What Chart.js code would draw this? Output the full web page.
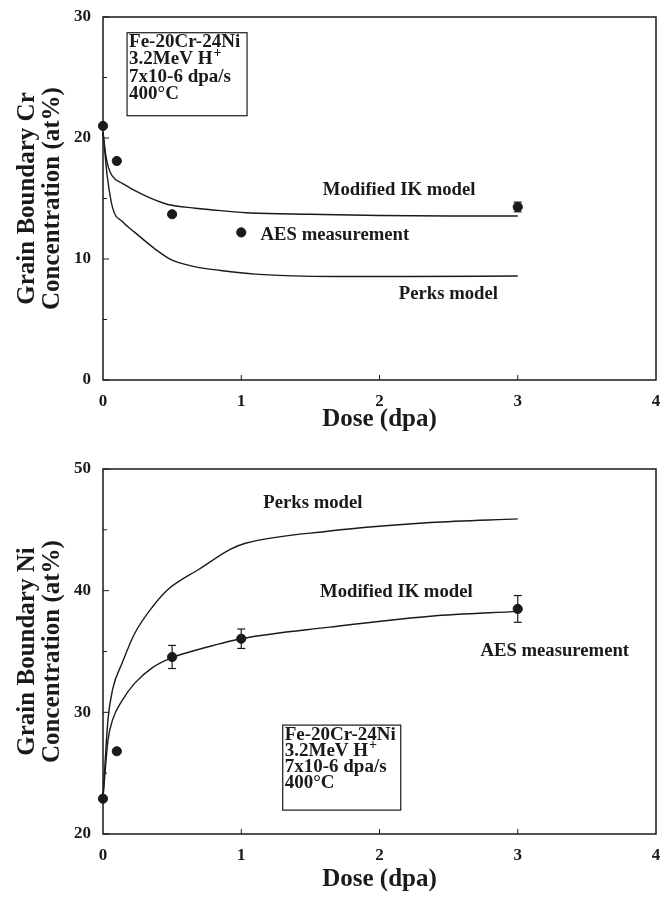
<!DOCTYPE html>
<html>
<head>
<meta charset="utf-8">
<script src="https://cdn.jsdelivr.net/npm/chart.js@4.4.1/dist/chart.umd.min.js"></script>
<style>
  html, body { margin: 0; padding: 0; background: #fff; }
  canvas { display: block; }
</style>
</head>
<body>
<canvas id="chart-cr" width="660" height="440"></canvas>
<canvas id="chart-ni" width="660" height="458"></canvas>
<script>
// Grain boundary segregation in Fe-20Cr-24Ni after 3.2 MeV proton irradiation.
// Two stacked panels: Cr depletion (top) and Ni enrichment (bottom), each with
// the two model curves and the AES measurements.

const INK = '#1a1a1a';
const SERIF = "'Liberation Serif', 'Times New Roman', serif";

const xTickLabels = [0, 1, 2, 3, 4];
const xInnerTicks = [1, 2, 3];

// ---- top panel: Cr ----
const crIkDose    = [0, 0.02, 0.036, 0.065, 0.14, 0.3, 0.47, 0.67, 0.85, 1.07, 1.5, 2, 2.5, 3];
const crIkConc    = [20.5, 18.6, 17.7, 16.9, 16.25, 15.25, 14.5, 14.2, 14.0, 13.8, 13.7, 13.6, 13.55, 13.55];
const crPerksDose = [0, 0.02, 0.03, 0.07, 0.14, 0.23, 0.38, 0.5, 0.67, 0.85, 1.1, 1.67, 2.2, 3];
const crPerksConc = [20.5, 18.0, 16.9, 14.2, 13.1, 12.2, 10.8, 9.9, 9.35, 9.05, 8.75, 8.55, 8.55, 8.6];
const crAesDose   = [0, 0.1, 0.5, 1, 3];
const crAesConc   = [21.0, 18.1, 13.7, 12.2, 14.3];
const crAesErr    = [0, 0, 0, 0, 0.4];
const crYMajor    = [0, 10, 20, 30];
const crYMinor    = [5, 15, 25];
const crNotes = [
  { text: 'Modified IK model', x: 1.59, y: 15.7 },
  { text: 'AES measurement',   x: 1.14, y: 12.0 },
  { text: 'Perks model',       x: 2.14, y: 7.1 },
];

// ---- bottom panel: Ni ----
const niPerksDose = [0, 0.036, 0.07, 0.14, 0.23, 0.36, 0.47, 0.7, 0.92, 1.03, 1.64, 2.37, 3];
const niPerksConc = [23.0, 29.4, 31.9, 34.1, 36.5, 38.7, 40.1, 41.8, 43.4, 43.9, 44.9, 45.6, 45.9];
const niIkDose    = [0, 0.036, 0.07, 0.14, 0.23, 0.36, 0.5, 0.67, 1, 1.64, 2.37, 3];
const niIkConc    = [23.0, 27.7, 29.4, 31.0, 32.4, 33.7, 34.5, 35.1, 36.05, 37.0, 37.9, 38.3];
const niAesDose   = [0, 0.1, 0.5, 1, 3];
const niAesConc   = [22.9, 26.8, 34.55, 36.05, 38.5];
const niAesErr    = [0, 0, 0.95, 0.8, 1.1];
const niYMajor    = [20, 30, 40, 50];
const niYMinor    = [25, 35, 45];
const niNotes = [
  { text: 'Perks model',       x: 1.16, y: 47.2 },
  { text: 'Modified IK model', x: 1.57, y: 39.9 },
  { text: 'AES measurement',   x: 2.73, y: 35.0 },
];

const conditions = ['Fe-20Cr-24Ni', '3.2MeV H^+', '7x10-6 dpa/s', '400\u00B0C'];

const pts = (xs, ys) => xs.map((x, i) => ({ x, y: ys[i] }));

function seg(ctx, x1, y1, x2, y2) {
  ctx.beginPath();
  ctx.moveTo(x1, y1);
  ctx.lineTo(x2, y2);
  ctx.stroke();
}

// frame, inward ticks, error bars, text labels and the conditions box
const panelDecor = {
  id: 'panelDecor',
  afterDatasetsDraw(chart, args, opts) {
    const { ctx } = chart;
    const xs = chart.scales.x, ys = chart.scales.y;
    const data = chart.data.datasets[opts.errIndex].data;
    ctx.save();
    ctx.strokeStyle = INK;
    ctx.lineWidth = 1.2;
    opts.err.forEach((e, i) => {
      if (!e) return;
      const x = xs.getPixelForValue(data[i].x);
      const y1 = ys.getPixelForValue(data[i].y - e);
      const y2 = ys.getPixelForValue(data[i].y + e);
      seg(ctx, x, y1, x, y2);
      seg(ctx, x - 4, y1, x + 4, y1);
      seg(ctx, x - 4, y2, x + 4, y2);
    });
    ctx.restore();
  },
  afterDraw(chart, args, opts) {
    const { ctx, chartArea: a } = chart;
    const xs = chart.scales.x, ys = chart.scales.y;
    ctx.save();
    ctx.strokeStyle = INK;
    ctx.fillStyle = INK;

    ctx.lineWidth = 1.5;
    ctx.strokeRect(a.left, a.top, a.right - a.left, a.bottom - a.top);

    ctx.lineWidth = 1;
    opts.yMajor.forEach((v) => { const y = ys.getPixelForValue(v); seg(ctx, a.left, y, a.left + 6, y); });
    opts.yMinor.forEach((v) => { const y = ys.getPixelForValue(v); seg(ctx, a.left, y, a.left + 4, y); });
    xInnerTicks.forEach((v) => { const x = xs.getPixelForValue(v); seg(ctx, x, a.bottom, x, a.bottom - 5); });

    ctx.font = `bold 18.7px ${SERIF}`;
    ctx.textAlign = 'left';
    ctx.textBaseline = 'middle';
    opts.notes.forEach((n) => ctx.fillText(n.text, xs.getPixelForValue(n.x), ys.getPixelForValue(n.y)));

    // conditions box
    const b = opts.box;
    const bx = xs.getPixelForValue(b.x), by = ys.getPixelForValue(b.y);
    ctx.lineWidth = 1.2;
    ctx.strokeRect(bx, by, b.w, b.h);
    conditions.forEach((line, i) => {
      const ty = by + b.first + i * b.step;
      const [main, sup] = line.split('^');
      ctx.font = `bold 19px ${SERIF}`;
      ctx.fillText(main, bx + 2, ty);
      if (sup) {
        const w = ctx.measureText(main).width;
        ctx.font = `bold 14px ${SERIF}`;
        ctx.fillText(sup, bx + 2 + w + 1, ty - 6);
      }
    });
    ctx.restore();
  },
};

function lineSet(label, data) {
  return {
    label, data,
    showLine: true,
    borderColor: INK,
    borderWidth: 1.4,
    pointRadius: 0,
    cubicInterpolationMode: 'monotone',
    clip: false,
  };
}

function buildPanel(id, p) {
  const ctx = document.getElementById(id);
  return new Chart(ctx, {
    type: 'scatter',
    data: {
      datasets: [
        ...p.lines.map(([label, d]) => lineSet(label, d)),
        {
          label: 'AES measurement',
          data: p.aes,
          showLine: false,
          pointRadius: 4.6,
          pointBackgroundColor: INK,
          pointBorderColor: INK,
          clip: false,
        },
      ],
    },
    options: {
      responsive: false,
      animation: false,
      events: [],
      layout: { autoPadding: false, padding: { top: p.padTop, right: 4, left: 0, bottom: 0 } },
      plugins: {
        legend: { display: false },
        tooltip: { enabled: false },
        panelDecor: {
          errIndex: p.lines.length,
          err: p.err,
          yMajor: p.yMajor,
          yMinor: p.yMinor,
          notes: p.notes,
          box: p.box,
        },
      },
      scales: {
        x: {
          type: 'linear',
          min: 0, max: 4,
          afterBuildTicks: (s) => { s.ticks = xTickLabels.map((v) => ({ value: v })); },
          afterFit: (s) => {
            s.height = p.xHeight;
            s.paddingLeft = 0;
            s.paddingRight = 0;
          },
          grid: { display: false },
          border: { display: false },
          ticks: { color: INK, padding: 3, maxRotation: 0, font: { family: SERIF, size: 17, weight: 'bold' } },
          title: {
            display: true,
            text: 'Dose (dpa)',
            color: INK,
            font: { family: SERIF, size: 25, weight: 'bold', lineHeight: 1 },
            padding: { top: 0, bottom: p.xTitlePad },
          },
        },
        y: {
          type: 'linear',
          min: p.yMajor[0], max: p.yMajor[p.yMajor.length - 1],
          afterBuildTicks: (s) => { s.ticks = p.yMajor.map((v) => ({ value: v })); },
          afterFit: (s) => {
            s.width = 103;
            s.paddingTop = 0;
            s.paddingBottom = 0;
          },
          grid: { display: false },
          border: { display: false },
          ticks: { color: INK, padding: 4, font: { family: SERIF, size: 17, weight: 'bold' } },
          title: {
            display: true,
            text: p.yTitle,
            color: INK,
            font: { family: SERIF, size: 25, weight: 'bold', lineHeight: 1 },
            padding: { top: 15, bottom: 0 },
          },
        },
      },
    },
    plugins: [panelDecor],
  });
}

buildPanel('chart-cr', {
  lines: [
    ['Modified IK model', pts(crIkDose, crIkConc)],
    ['Perks model', pts(crPerksDose, crPerksConc)],
  ],
  aes: pts(crAesDose, crAesConc),
  err: crAesErr,
  yMajor: crYMajor,
  yMinor: crYMinor,
  yTitle: ['Grain Boundary Cr', 'Concentration (at%)'],
  notes: crNotes,
  box: { x: 0.174, y: 28.7, w: 120, h: 83, first: 9, step: 17.5 },
  padTop: 17,
  xHeight: 60,
  xTitlePad: 7.5,
});

buildPanel('chart-ni', {
  lines: [
    ['Perks model', pts(niPerksDose, niPerksConc)],
    ['Modified IK model', pts(niIkDose, niIkConc)],
  ],
  aes: pts(niAesDose, niAesConc),
  err: niAesErr,
  yMajor: niYMajor,
  yMinor: niYMinor,
  yTitle: ['Grain Boundary Ni', 'Concentration (at%)'],
  notes: niNotes,
  box: { x: 1.30, y: 28.95, w: 118, h: 85, first: 10, step: 16 },
  padTop: 29,
  xHeight: 64,
  xTitlePad: 5.5,
});
</script>
</body>
</html>
